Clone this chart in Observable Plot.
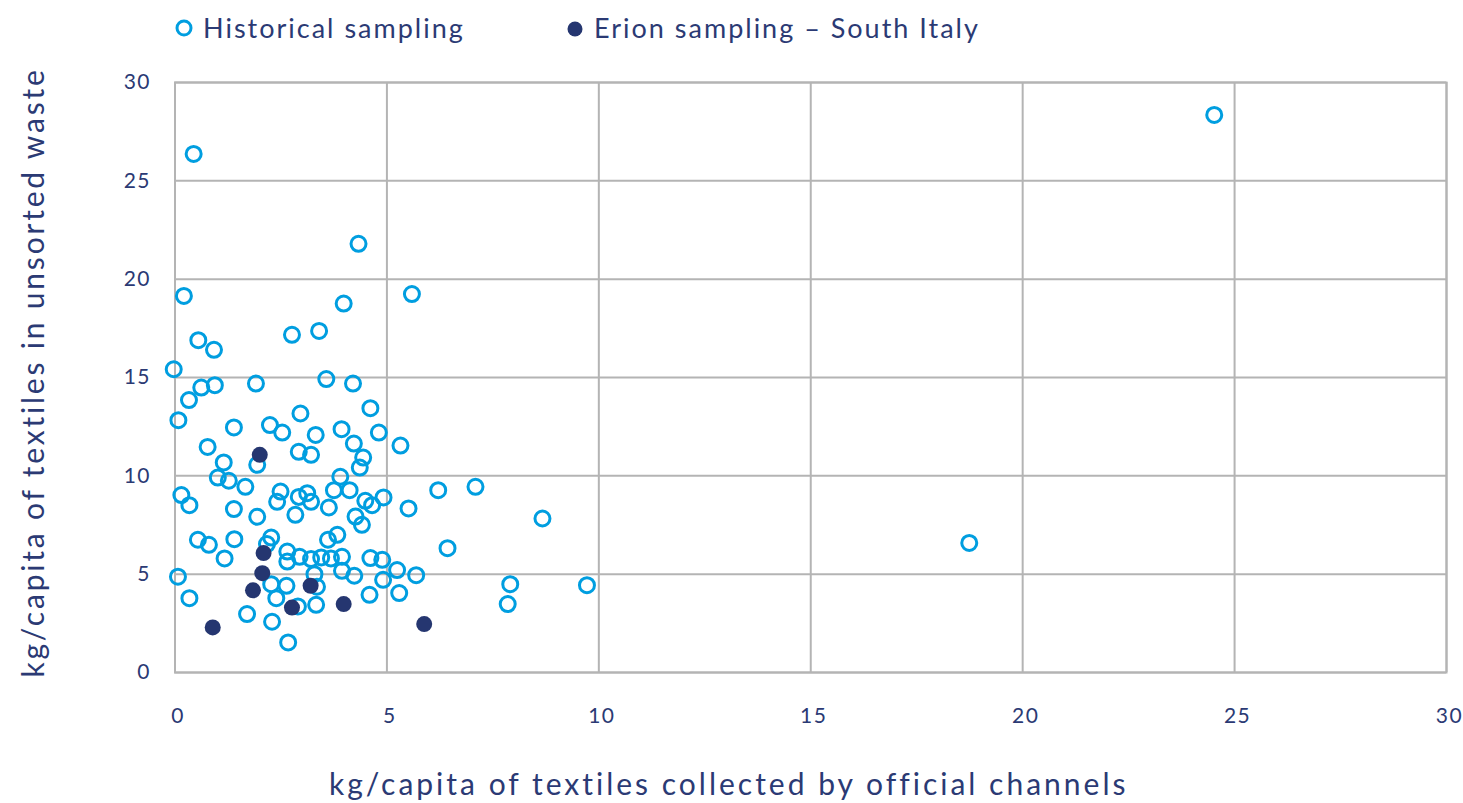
<!DOCTYPE html>
<html>
<head>
<meta charset="utf-8">
<script src="https://cdn.jsdelivr.net/npm/d3@7"></script>
<script src="https://cdn.jsdelivr.net/npm/@observablehq/plot@0.6"></script>
<style>
  html, body { margin: 0; padding: 0; background: #fff; }
  body { width: 1463px; height: 803px; overflow: hidden; font-family: Lato, "Open Sans", sans-serif; color: #2b3a74; }
  #legend { position: relative; height: 56px; }
  .item { position: absolute; top: 11px; display: flex; align-items: center; font-size: 27px; letter-spacing: 2px; white-space: nowrap; }
  .item svg { margin-right: 9px; }
  #chart svg { display: block; }
</style>
</head>
<body>
<div id="legend"></div>
<div id="chart"></div>
<script>
const seriesNames = ["Historical sampling", "Erion sampling \u2013 South Italy"];
const xLabel = "kg/capita of textiles collected by official channels";
const yLabel = "kg/capita of textiles in unsorted waste";
const xTicks = [0, 5, 10, 15, 20, 25, 30];
const yTicks = [0, 5, 10, 15, 20, 25, 30];

const histX = [0.44, 4.33, 24.52, 18.74, 0.21, 3.98, 5.59, 0.55, 0.92, 2.76, 3.40, -0.03, 0.62, 0.94, 1.91, 3.57, 4.20, 0.33, 4.61, 0.08,
  2.96, 1.39, 2.24, 2.53, 3.32, 3.93, 4.81, 5.32, 4.22, 0.77, 2.92, 3.21, 1.94, 1.15, 4.44, 4.36, 7.09, 1.01, 1.27, 3.90,
  1.66, 0.15, 0.34, 2.49, 2.41, 2.92, 3.12, 3.21, 3.75, 4.12, 3.63, 4.49, 4.65, 4.92, 6.21, 1.39, 1.94, 2.84, 4.26, 4.41,
  5.51, 8.67, 0.54, 0.80, 1.40, 1.17, 2.27, 2.17, 3.61, 3.83, 6.43, 2.65, 2.65, 2.94, 3.21, 3.45, 3.68, 3.94, 4.61, 4.89,
  3.94, 4.23, 5.24, 5.69, 4.91, 0.07, 0.34, 3.29, 2.27, 2.63, 3.35, 2.39, 2.90, 3.33, 4.59, 5.29, 1.70, 2.29, 2.67, 7.91,
  7.85, 9.72];
const histY = [26.37, 21.80, 28.35, 6.59, 19.15, 18.76, 19.24, 16.90, 16.41, 17.17, 17.37, 15.42, 14.49, 14.61, 14.69, 14.92, 14.69, 13.85, 13.44, 12.83,
  13.17, 12.46, 12.58, 12.20, 12.08, 12.37, 12.20, 11.54, 11.64, 11.47, 11.22, 11.07, 10.56, 10.68, 10.93, 10.42, 9.44, 9.91, 9.75, 9.95,
  9.44, 9.02, 8.51, 9.20, 8.68, 8.93, 9.12, 8.68, 9.27, 9.27, 8.39, 8.73, 8.51, 8.90, 9.27, 8.31, 7.92, 8.02, 7.93, 7.51,
  8.34, 7.83, 6.75, 6.49, 6.78, 5.80, 6.86, 6.53, 6.75, 7.00, 6.32, 6.15, 5.64, 5.88, 5.77, 5.85, 5.80, 5.88, 5.82, 5.73,
  5.17, 4.92, 5.21, 4.95, 4.71, 4.87, 3.78, 5.00, 4.49, 4.41, 4.36, 3.78, 3.36, 3.44, 3.95, 4.04, 2.97, 2.58, 1.53, 4.49,
  3.48, 4.44];

const erionX = [2.00, 2.09, 2.06, 1.84, 3.20, 2.76, 3.98, 0.89, 5.88];
const erionY = [11.07, 6.07, 5.05, 4.18, 4.41, 3.30, 3.48, 2.29, 2.46];

const cyan = "#009ee0";
const navy = "#253670";
const textColor = "#2b3a74";
const gridColor = "#b4b4b4";

const hist = histX.map((x, i) => ({x, y: histY[i]}));
const erion = erionX.map((x, i) => ({x, y: erionY[i]}));

// Legend
const legend = document.getElementById("legend");
legend.innerHTML = `
  <div class="item" style="left:174px"><svg width="20" height="20"><circle cx="10" cy="10" r="7" fill="none" stroke="${cyan}" stroke-width="3"/></svg>${seriesNames[0]}</div>
  <div class="item" style="left:565px"><svg width="20" height="20"><circle cx="10" cy="11" r="7.5" fill="${navy}"/></svg>${seriesNames[1]}</div>`;

const chart = Plot.plot({
  width: 1463,
  height: 747,
  marginTop: 26,
  marginBottom: 131,
  marginLeft: 174.5,
  marginRight: 17,
  style: {fontFamily: "Lato, 'Open Sans', sans-serif", color: textColor, background: "#fff"},
  x: {domain: [0, 30]},
  y: {domain: [0, 30]},
  marks: [
    Plot.gridX(xTicks, {stroke: gridColor, strokeOpacity: 1, strokeWidth: 2}),
    Plot.gridY(yTicks, {stroke: gridColor, strokeOpacity: 1, strokeWidth: 2}),
    Plot.frame({stroke: gridColor, strokeWidth: 2}),
    Plot.axisX(xTicks, {tickSize: 0, tickPadding: 36, fontSize: 21, fill: textColor, label: null, dx: 3}),
    Plot.axisY(yTicks, {tickSize: 0, tickPadding: 24, fontSize: 21, fill: textColor, label: null}),
    Plot.dot(hist, {x: "x", y: "y", r: 7.5, stroke: cyan, strokeWidth: 3, fill: "none"}),
    Plot.dot(erion, {x: "x", y: "y", r: 8, fill: navy, stroke: "none"}),
    Plot.text([xLabel], {frameAnchor: "bottom", textAnchor: "middle", lineAnchor: "middle", dy: 113, dx: -82, fontSize: 30, fill: textColor, text: d => d}),
    Plot.text([yLabel], {frameAnchor: "left", textAnchor: "middle", lineAnchor: "middle", rotate: -90, dx: -141, dy: -5, fontSize: 30, fill: textColor, text: d => d})
  ]
});
// letter spacing to approximate the wider original typeface
d3.select(chart).selectAll("text").each(function() {
  const t = this.textContent;
  if (t === xLabel) this.style.letterSpacing = "3px";
  else if (t === yLabel) this.style.letterSpacing = "2.8px";
  else this.style.letterSpacing = "1.5px";
});
document.getElementById("chart").appendChild(chart);
</script>
</body>
</html>
